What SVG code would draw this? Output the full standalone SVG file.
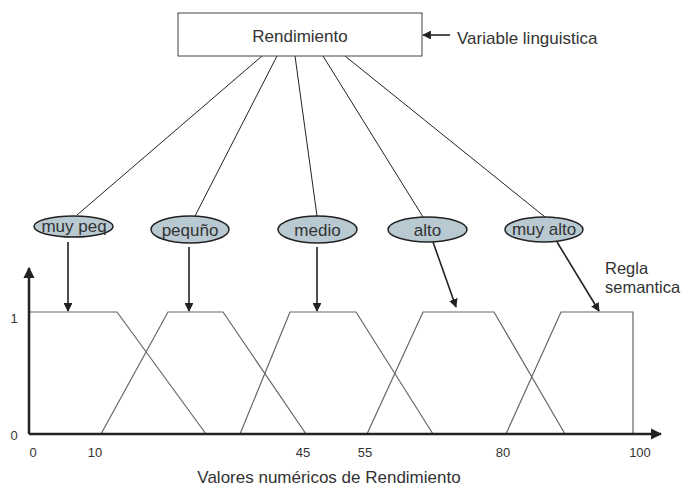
<svg xmlns="http://www.w3.org/2000/svg" width="682" height="486" viewBox="0 0 682 486">
<defs>
<style>
text{font-family:"Liberation Sans",Arial,sans-serif;fill:#333;}
.lbl{font-size:17px;text-anchor:middle;}
.num{font-size:13px;text-anchor:middle;}
.ell{fill:#b9c9d1;stroke:#222;stroke-width:1.5;}
.box{fill:#fff;stroke:#444;stroke-width:1;}
.link{stroke:#222;stroke-width:1;fill:none;}
.arr{stroke:#222;stroke-width:1.6;fill:none;marker-end:url(#ah);}
.mf{stroke:#666;stroke-width:1.2;fill:none;}
.axis{stroke:#222;stroke-width:2.5;fill:none;}
</style>
<marker id="ah" viewBox="0 0 10 10" refX="9" refY="5" markerWidth="5.5" markerHeight="5.5" orient="auto" markerUnits="strokeWidth">
<path d="M0,0 L10,5 L0,10 z" fill="#222"/>
</marker>
<marker id="ax" viewBox="0 0 10 10" refX="9" refY="5" markerWidth="4.5" markerHeight="4.5" orient="auto" markerUnits="strokeWidth">
<path d="M0,0 L10,5 L0,10 z" fill="#222"/>
</marker>
</defs>
<rect width="682" height="486" fill="#fff"/>

<g id="connectors">
<line class="link" x1="262" y1="56" x2="77" y2="215"/>
<line class="link" x1="277" y1="56" x2="195" y2="216"/>
<line class="link" x1="295" y1="56" x2="317" y2="216"/>
<line class="link" x1="323" y1="56" x2="423" y2="217"/>
<line class="link" x1="345" y1="56" x2="545" y2="217"/>
<line class="arr" x1="450" y1="35" x2="423" y2="35"/>
<line class="arr" x1="68" y1="242" x2="68" y2="311"/>
<line class="arr" x1="189" y1="247" x2="189" y2="311"/>
<line class="arr" x1="317" y1="247" x2="317" y2="311"/>
<line class="arr" x1="433" y1="242" x2="456" y2="307"/>
<line class="arr" x1="557" y1="242" x2="599" y2="311"/>
</g>

<g id="rendimiento">
<rect class="box" x="178" y="13" width="244" height="43"/>
<text class="lbl" x="300" y="42">Rendimiento</text>
</g>
<g id="variable-linguistica">
<text x="457" y="44" font-size="17">Variable linguistica</text>
</g>

<g id="muy-peq">
<ellipse class="ell" cx="73.5" cy="226.5" rx="39.5" ry="10.5"/>
<text class="lbl" x="74" y="232" font-size="18">muy peq</text>
</g>
<g id="pequeno">
<ellipse class="ell" cx="190" cy="229.5" rx="39" ry="13.5"/>
<text class="lbl" x="190" y="235.5">pequño</text>
</g>
<g id="medio">
<ellipse class="ell" cx="317.5" cy="229.5" rx="39.5" ry="13.5"/>
<text class="lbl" x="317.5" y="235.5">medio</text>
</g>
<g id="alto">
<ellipse class="ell" cx="427.5" cy="229.5" rx="39.5" ry="12.5"/>
<text class="lbl" x="427.5" y="235.5" font-size="18">alto</text>
</g>
<g id="muy-alto">
<ellipse class="ell" cx="544" cy="229.5" rx="39" ry="12.5"/>
<text class="lbl" x="544" y="235" font-size="16">muy alto</text>
</g>

<g id="regla-semantica">
<text x="605" y="274" font-size="16.5">Regla</text>
<text x="605" y="293" font-size="16.5">semantica</text>
</g>

<g id="chart">
<polyline class="mf" points="29,312 117,312 206,434"/>
<polyline class="mf" points="101,434 168,312 223,312 306,434"/>
<polyline class="mf" points="240,434 290,312 356,312 433,434"/>
<polyline class="mf" points="367,434 423,312 494,312 565,434"/>
<polyline class="mf" points="506,434 561,312 633,312 633,434"/>
<line class="axis" x1="29" y1="434" x2="29" y2="268" marker-end="url(#ax)"/>
<line class="axis" x1="29" y1="434" x2="661" y2="434" stroke-width="2" marker-end="url(#ax)"/>
<text class="num" x="14" y="323">1</text>
<text class="num" x="14" y="440">0</text>
<text class="num" x="33" y="457">0</text>
<text class="num" x="95" y="457">10</text>
<text class="num" x="303" y="457">45</text>
<text class="num" x="365" y="457">55</text>
<text class="num" x="503" y="457">80</text>
<text class="num" x="640" y="457">100</text>
<text class="lbl" x="329" y="483" font-size="17.8">Valores numéricos de Rendimiento</text>
</g>
</svg>
